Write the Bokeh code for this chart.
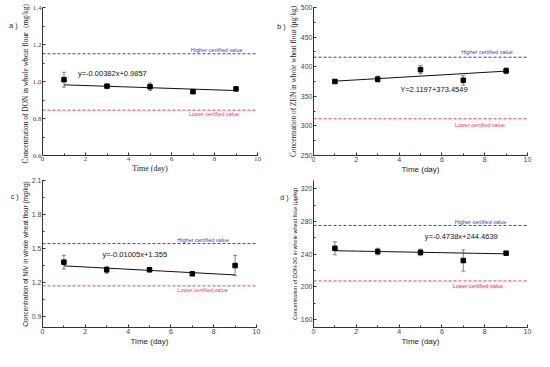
from bokeh.plotting import figure
from bokeh.layouts import gridplot
from bokeh.models import (ColumnDataSource, Whisker, TeeHead, Span, Label, FixedTicker, Range1d,
                          PrintfTickFormatter, LinearAxis)
from bokeh.embed import file_html
from bokeh.resources import INLINE

days = [1, 3, 5, 7, 9]

don = [1.01, 0.975, 0.972, 0.945, 0.96]
don_err = [0.04, 0.008, 0.02, 0.006, 0.008]
don_fit = [0.982, 0.951]
don_limits = [1.15, 0.845]

zen = [375, 379, 395, 377, 393]
zen_err = [2, 5, 7, 8, 5]
zen_fit = [375.6, 392.5]
zen_limits = [416, 312]

niv = [1.378, 1.31, 1.31, 1.275, 1.348]
niv_err = [0.06, 0.03, 0.015, 0.01, 0.09]
niv_fit = [1.345, 1.265]
niv_limits = [1.542, 1.168]

don3g = [247, 243, 242, 232, 241]
don3g_err = [8, 4, 4, 13, 1]
don3g_fit = [244.0, 240.2]
don3g_limits = [275, 207]

fit_x = [1, 9]
x_ticks = [0, 2, 4, 6, 8, 10]

SERIF = "Liberation Serif"
SANS = "Liberation Sans"


def panel(vals, errs, fit, limits, yr, yticks, yfmt, ylabel, xlabel_font, ylabel_font, ylabel_size,
          tick_font, eq, eq_xy, hi_xy, lo_xy, tag, tag_y, borders, fw, fh, lo_bg=None):
    p = figure(frame_width=fw, frame_height=fh, x_range=Range1d(0, 10), y_range=Range1d(*yr),
               output_backend="svg", toolbar_location=None,
               min_border_left=borders[0], min_border_right=borders[1],
               min_border_top=borders[2], min_border_bottom=borders[3])
    p.outline_line_color = None
    p.grid.visible = False
    p.xaxis.ticker = FixedTicker(ticks=x_ticks, minor_ticks=list(range(0, 11)))
    p.yaxis.ticker = FixedTicker(ticks=yticks,
                                 minor_ticks=[yticks[0] + (yticks[1] - yticks[0]) * k / 2 for k in range(-2, 2 * len(yticks) + 1)])
    p.yaxis.formatter = PrintfTickFormatter(format=yfmt)
    for ax in (p.xaxis[0], p.yaxis[0]):
        ax.major_tick_in = 3
        ax.major_tick_out = 0
        ax.minor_tick_in = 2
        ax.minor_tick_out = 0
        ax.axis_line_color = "#333333"
        ax.major_tick_line_color = "#333333"
        ax.minor_tick_line_color = "#333333"
        ax.major_label_text_font = tick_font
        ax.major_label_text_font_size = "7px"
        ax.major_label_text_color = "#444444"
        ax.major_label_standoff = 1
        ax.axis_label_standoff = 0
        ax.axis_label_text_font_style = "normal"
        ax.axis_label_text_color = "#222222"
    p.xaxis.axis_label = "Time (day)"
    p.xaxis.axis_label_text_font = xlabel_font
    p.xaxis.axis_label_text_font_size = "8px"
    p.yaxis.axis_label = ylabel
    p.yaxis.axis_label_text_font = ylabel_font
    p.yaxis.axis_label_text_font_size = ylabel_size

    # panel tag ("a )" etc.) drawn as a bare extra axis at the far left
    tag_axis = LinearAxis(ticker=FixedTicker(ticks=[tag_y], minor_ticks=[]),
                          major_label_overrides={tag_y: tag},
                          axis_line_color=None, major_tick_line_color=None,
                          minor_tick_line_color=None, major_tick_in=0, major_tick_out=0,
                          minor_tick_in=0, minor_tick_out=0, major_label_standoff=0,
                          major_label_text_font=SANS, major_label_text_font_size="7px",
                          major_label_text_color="#222222")
    p.add_layout(tag_axis, "left")

    p.add_layout(Span(location=limits[0], dimension="width", line_color="#3a3ad0",
                      line_dash="3 2", line_width=1))
    p.add_layout(Span(location=limits[1], dimension="width", line_color="#e8404a",
                      line_dash="3 2", line_width=1))
    p.add_layout(Label(x=hi_xy[0], y=hi_xy[1], text="Higher certified value", text_font=SANS,
                       text_font_size="5.5px", text_color="#3a3ad0", text_baseline="middle"))
    lo = Label(x=lo_xy[0], y=lo_xy[1], text="Lower certified value", text_font=SANS,
               text_font_size="5.5px", text_color="#e8404a", text_baseline="middle")
    if lo_bg:
        lo.background_fill_color = lo_bg
    p.add_layout(lo)

    p.line(fit_x, fit, line_color="#111111", line_width=1)
    lower = [v - e for v, e in zip(vals, errs)]
    upper = [v + e for v, e in zip(vals, errs)]
    src = ColumnDataSource(dict(x=days, y=vals, lower=lower, upper=upper))
    p.add_layout(Whisker(base="x", upper="upper", lower="lower", source=src,
                         line_color="#666666", line_width=0.8,
                         upper_head=TeeHead(size=4, line_color="#666666", line_width=0.8),
                         lower_head=TeeHead(size=4, line_color="#666666", line_width=0.8)))
    p.scatter("x", "y", source=src, marker="square", size=4.5, color="black")
    p.add_layout(Label(x=eq_xy[0], y=eq_xy[1], text=eq, text_font=SANS, text_font_size="7.5px",
                       text_color="#111111", text_baseline="middle"))
    return p


pa = panel(don, don_err, don_fit, don_limits, (0.6, 1.4), [0.6, 0.8, 1.0, 1.2, 1.4], "%.1f",
           "Concentration of DON in whole wheat flour（mg/kg）", SERIF, SERIF, "7.4px", SERIF,
           "y=-0.00382x+0.9857", (1.65, 1.044), (6.9, 1.168), (6.8, 0.822),
           "a )", 1.305, (41, 11, 6, 0), 215, 148)
pb = panel(zen, zen_err, zen_fit, zen_limits, (250, 500), [250, 300, 350, 400, 450, 500], "%d",
           "Concentration of ZEN in whole wheat flour (μg/kg)", SANS, SERIF, "7.3px", SANS,
           "Y=2.1197+373.4549", (4.05, 361), (6.9, 424), (6.6, 302),
           "b )", 468, (46, 6, 7, 0), 214, 148)
pc = panel(niv, niv_err, niv_fit, niv_limits, (0.8, 2.1), [0.9, 1.2, 1.5, 1.8, 2.1], "%.1f",
           "Concentration of NIV in whole wheat flour (mg/kg)", SANS, SANS, "6.6px", SANS,
           "y=-0.01005x+1.355", (2.8, 1.45), (6.3, 1.575), (6.3, 1.128),
           "c )", 1.96, (42, 11, 4, 0), 214, 147)
pd = panel(don3g, don3g_err, don3g_fit, don3g_limits, (150, 330), [160, 200, 240, 280, 320], "%d",
           "Concentration of DON-3G in whole wheat flour (μg/kg)", SANS, SANS, "5.5px", SANS,
           "y=-0.4738x+244.4639", (5.2, 262), (6.6, 279), (6.5, 201),
           "d )", 309, (46, 6, 4, 0), 214, 147, lo_bg="#fdf0f5")

grid = gridplot([[pa, pb], [pc, pd]], toolbar_location=None)
open("out.html", "w").write(file_html(grid, INLINE))
